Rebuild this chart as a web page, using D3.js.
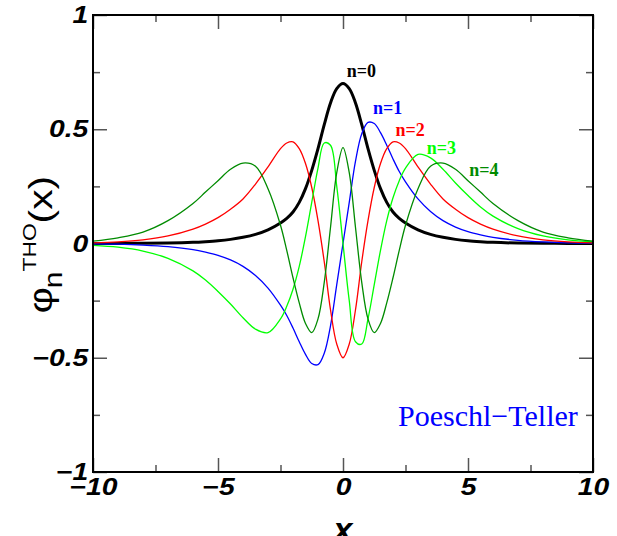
<!DOCTYPE html>
<html>
<head>
<meta charset="utf-8">
<script src="https://cdn.jsdelivr.net/npm/d3@7"></script>
<style>
  body { margin: 0; background: #fff; }
  svg { display: block; }
</style>
</head>
<body>
<div id="chart"></div>
<script>
// sample positions along x
const xs = [-10, -9, -8, -7, -6, -5.5, -5, -4.5, -4, -3.5, -3, -2.5, -2.25, -2, -1.75, -1.5, -1.25, -1, -0.75, -0.5, -0.25,
  0, 0.25, 0.5, 0.75, 1, 1.25, 1.5, 1.75, 2, 2.25, 2.5, 3, 3.5, 4, 4.5, 5, 5.5, 6, 7, 8, 9, 10];

// values
const phi0 = [0.0002, 0.0005, 0.001, 0.002, 0.005, 0.008, 0.012, 0.018, 0.027, 0.04, 0.06, 0.09, 0.11, 0.138, 0.18, 0.24, 0.32, 0.415, 0.52, 0.615, 0.678,
  0.70, 0.678, 0.615, 0.52, 0.415, 0.32, 0.24, 0.18, 0.138, 0.11, 0.09, 0.06, 0.04, 0.027, 0.018, 0.012, 0.008, 0.005, 0.002, 0.001, 0.0005, 0.0002];
const phi1 = [-0.0015, -0.003, -0.007, -0.014, -0.027, -0.038, -0.052, -0.072, -0.10, -0.14, -0.195, -0.27, -0.315, -0.37, -0.43, -0.485, -0.525, -0.53, -0.48, -0.36, -0.18,
  0, 0.18, 0.36, 0.48, 0.53, 0.525, 0.485, 0.43, 0.37, 0.315, 0.27, 0.195, 0.14, 0.10, 0.072, 0.052, 0.038, 0.027, 0.014, 0.007, 0.003, 0.0015];
const phi2 = [0.003, 0.007, 0.016, 0.033, 0.063, 0.085, 0.113, 0.15, 0.195, 0.26, 0.335, 0.415, 0.44, 0.445, 0.415, 0.35, 0.245, 0.10, -0.08, -0.29, -0.44,
  -0.50, -0.44, -0.29, -0.08, 0.10, 0.245, 0.35, 0.415, 0.445, 0.44, 0.415, 0.335, 0.26, 0.195, 0.15, 0.113, 0.085, 0.063, 0.033, 0.016, 0.007, 0.003];
const phi3 = [-0.008, -0.016, -0.033, -0.065, -0.12, -0.16, -0.21, -0.265, -0.325, -0.375, -0.39, -0.33, -0.275, -0.20, -0.10, 0.03, 0.18, 0.33, 0.44, 0.43, 0.25,
  0, -0.25, -0.43, -0.44, -0.33, -0.18, -0.03, 0.10, 0.20, 0.275, 0.33, 0.39, 0.375, 0.325, 0.265, 0.21, 0.16, 0.12, 0.065, 0.033, 0.016, 0.008];
const phi4 = [0.01, 0.025, 0.05, 0.10, 0.175, 0.225, 0.275, 0.325, 0.352, 0.338, 0.24, 0.08, -0.03, -0.15, -0.26, -0.35, -0.39, -0.33, -0.17, 0.07, 0.31,
  0.42, 0.31, 0.07, -0.17, -0.33, -0.39, -0.35, -0.26, -0.15, -0.03, 0.08, 0.24, 0.338, 0.352, 0.325, 0.275, 0.225, 0.175, 0.10, 0.05, 0.025, 0.01];

const seriesNames = ["n=0", "n=1", "n=2", "n=3", "n=4"];
const seriesColors = ["#000000", "#0000ff", "#ff0000", "#00ff00", "#008b00"];

const xTicks = [-10, -5, 0, 5, 10];
const yTicks = [-1, -0.5, 0, 0.5, 1];
const xMinor = [-7.5, -2.5, 2.5, 7.5];
const yMinor = [-0.75, -0.25, 0.25, 0.75];

const width = 617, height = 536;
const margin = { top: 15, right: 24, bottom: 64, left: 93 };
const iw = width - margin.left - margin.right;
const ih = height - margin.top - margin.bottom;

const svg = d3.select("#chart").append("svg")
    .attr("width", width)
    .attr("height", height);

const g = svg.append("g")
    .attr("transform", `translate(${margin.left},${margin.top})`);

const x = d3.scaleLinear().domain([-10, 10]).range([0, iw]);
const y = d3.scaleLinear().domain([-1, 1]).range([ih, 0]);

const fmt = d => String(d).replace("-", "\u2212");

// ticks, inward on all four sides
const tickColor = "#555";
const axes = [
    d3.axisBottom(x).tickValues(xTicks).tickSize(-14).tickFormat(fmt).tickPadding(6),
    d3.axisBottom(x).tickValues(xMinor).tickSize(-7).tickFormat(""),
    d3.axisTop(x).tickValues(xTicks).tickSize(-14).tickFormat(""),
    d3.axisTop(x).tickValues(xMinor).tickSize(-7).tickFormat(""),
    d3.axisLeft(y).tickValues(yTicks).tickSize(-14).tickFormat(fmt).tickPadding(4),
    d3.axisLeft(y).tickValues(yMinor).tickSize(-7).tickFormat(""),
    d3.axisRight(y).tickValues(yTicks).tickSize(-14).tickFormat(""),
    d3.axisRight(y).tickValues(yMinor).tickSize(-7).tickFormat("")
];
const shifts = ["0," + ih, "0," + ih, "0,0", "0,0", "0,0", "0,0", iw + ",0", iw + ",0"];

axes.forEach((ax, i) => {
    const a = g.append("g")
        .attr("transform", `translate(${shifts[i]})`)
        .call(ax);
    a.select(".domain").remove();
    a.selectAll(".tick line")
        .attr("stroke", tickColor)
        .attr("stroke-width", 1.5);
    a.selectAll(".tick text")
        .attr("fill", "#000")
        .attr("transform", "scale(1.18,1)")
        .style("font-family", "'Liberation Sans', Arial, sans-serif")
        .style("font-weight", "bold")
        .style("font-style", "italic")
        .style("font-size", "24px");
});

// curves
g.append("clipPath").attr("id", "clip")
    .append("rect").attr("width", iw).attr("height", ih);

const line = d3.line()
    .x(d => x(d[0]))
    .y(d => y(d[1]))
    .curve(d3.curveCatmullRom.alpha(0.5));

const allSeries = [phi0, phi1, phi2, phi3, phi4];

g.append("g")
    .attr("clip-path", "url(#clip)")
    .selectAll("path")
    .data(allSeries)
    .enter().append("path")
    .attr("d", vals => line(xs.map((xv, i) => [xv, vals[i]])))
    .attr("fill", "none")
    .attr("stroke", (d, i) => seriesColors[i])
    .attr("stroke-width", (d, i) => i === 0 ? 3 : 1.3)
    .attr("stroke-linejoin", "round");

// frame
g.append("rect")
    .attr("width", iw)
    .attr("height", ih)
    .attr("fill", "none")
    .attr("stroke", "#000")
    .attr("stroke-width", 2);

// curve labels
const labelSpots = [[0.15, 0.73], [1.2, 0.565], [2.1, 0.47], [3.35, 0.39], [5.05, 0.295]];
g.selectAll(".lab")
    .data(seriesNames)
    .enter().append("text")
    .attr("class", "lab")
    .attr("x", (d, i) => x(labelSpots[i][0]))
    .attr("y", (d, i) => y(labelSpots[i][1]))
    .attr("fill", (d, i) => seriesColors[i])
    .style("font-family", "'Liberation Serif', 'Times New Roman', serif")
    .style("font-weight", "bold")
    .style("font-size", "18px")
    .text(d => d);

g.append("text")
    .attr("x", x(2.2))
    .attr("y", y(-0.8))
    .attr("fill", "#0000ff")
    .style("font-family", "'Liberation Serif', 'Times New Roman', serif")
    .style("font-size", "30px")
    .text("Poeschl\u2212Teller");

// axis titles
svg.append("text")
    .attr("x", margin.left + x(0))
    .attr("y", 541)
    .attr("text-anchor", "middle")
    .style("font-family", "'Liberation Sans', Arial, sans-serif")
    .style("font-weight", "bold")
    .style("font-style", "italic")
    .style("font-size", "34px")
    .text("x");

// phi_n^THO(x), pieces placed one after another along the rotated baseline
const yt = svg.append("text")
    .attr("transform", "translate(52,245) rotate(-90) scale(1.2,1)")
    .style("font-family", "'Liberation Sans', Arial, sans-serif")
    .style("font-size", "34px");
yt.append("tspan").attr("x", -57).attr("y", 0).text("\u03c6");
yt.append("tspan").attr("x", -36).attr("y", 10).style("font-size", "25px").text("n");
yt.append("tspan").attr("x", -22).attr("y", -16).style("font-size", "19px").text("THO");
yt.append("tspan").attr("x", 18).attr("y", 0).text("(x)");
</script>
</body>
</html>
